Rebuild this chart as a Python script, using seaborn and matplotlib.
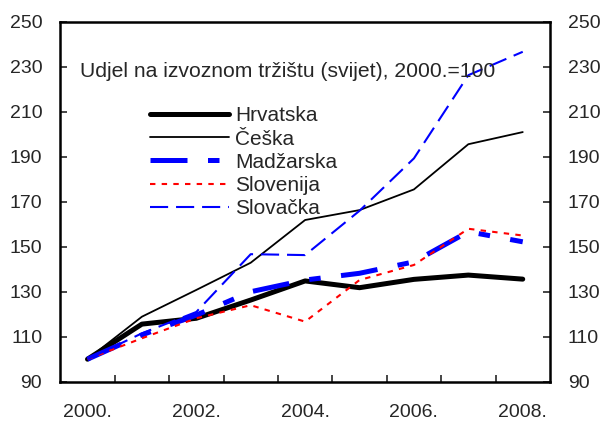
import pandas as pd
import seaborn as sns
import matplotlib.pyplot as plt
from matplotlib.ticker import FixedLocator

years = [2000, 2001, 2002, 2003, 2004, 2005, 2006, 2007, 2008]
year_labels = ["2000.", "2002.", "2004.", "2006.", "2008."]
y_ticks = [90, 110, 130, 150, 170, 190, 210, 230, 250]

hrvatska = [100, 115.6, 118.2, 126.3, 134.8, 131.8, 135.5, 137.4, 135.6]
ceska = [100, 118.9, 130.8, 142.9, 161.9, 166.3, 175.5, 195.6, 201.0]
madzarska = [100, 110.8, 119.6, 130.0, 135.2, 138.2, 143.3, 156.7, 152.2]
slovenija = [100, 109.3, 118.2, 124.0, 116.7, 135.2, 141.9, 158.0, 155.0]
slovacka = [100, 111.5, 121.0, 146.7, 146.3, 166.0, 189.3, 226.3, 236.7]

sns.set_style("white")
plt.rcParams['font.family'] = ['Liberation Sans', 'DejaVu Sans']

fig = plt.figure(figsize=(6.03, 4.21), dpi=100)
ax = fig.add_axes([0.1, 0.0934, 0.812, 0.8546])

idx = list(range(len(years)))
series = [
    ("Hrvatska", hrvatska, "black", 3.6, "-"),
    ("Češka", ceska, "black", 1.3, "-"),
    ("Madžarska", madzarska, "#0000ff", 3.6, (0, (7.4, 4.1, 2.3, 4.1))),
    ("Slovenija", slovenija, "#ff0000", 1.5, (0, (2.6, 3.0))),
    ("Slovačka", slovacka, "#0000ff", 1.5, (0, (8.7, 3.8))),
]
for name, vals, col, lw, ls in series:
    sns.lineplot(x=idx, y=vals, ax=ax, color=col, linewidth=lw,
                 linestyle=ls, label=name)

ax.set_xlim(-0.5, 8.5)
ax.set_ylim(90, 250)
ax.xaxis.set_major_locator(FixedLocator([0, 2, 4, 6, 8]))
ax.set_xticklabels(year_labels)
ax.xaxis.set_minor_locator(FixedLocator([0.5 + i for i in range(8)]))
ax.yaxis.set_major_locator(FixedLocator(y_ticks))
ax.tick_params(axis='x', which='major', length=0, pad=16, labelsize=14)
ax.tick_params(axis='x', which='minor', direction='in', length=5, width=1.2,
               bottom=True)
ax.tick_params(axis='y', direction='in', length=5, width=1.2, left=True,
               right=True, labelleft=True, labelright=True, labelsize=14,
               pad=13)
for s in ax.spines.values():
    s.set_linewidth(1.8)
    s.set_color("black")

ax.text(0.04, 0.862, "Udjel na izvoznom tržištu (svijet), 2000.=100",
        transform=ax.transAxes, fontsize=15.2, va='center', ha='left')

ax.legend(loc='upper left', bbox_to_anchor=(0.183, 0.765), frameon=False,
          fontsize=15, handlelength=3.8, handletextpad=0.3,
          labelspacing=0.2, borderpad=0, borderaxespad=0)

fig.savefig("out.png", dpi=100)
